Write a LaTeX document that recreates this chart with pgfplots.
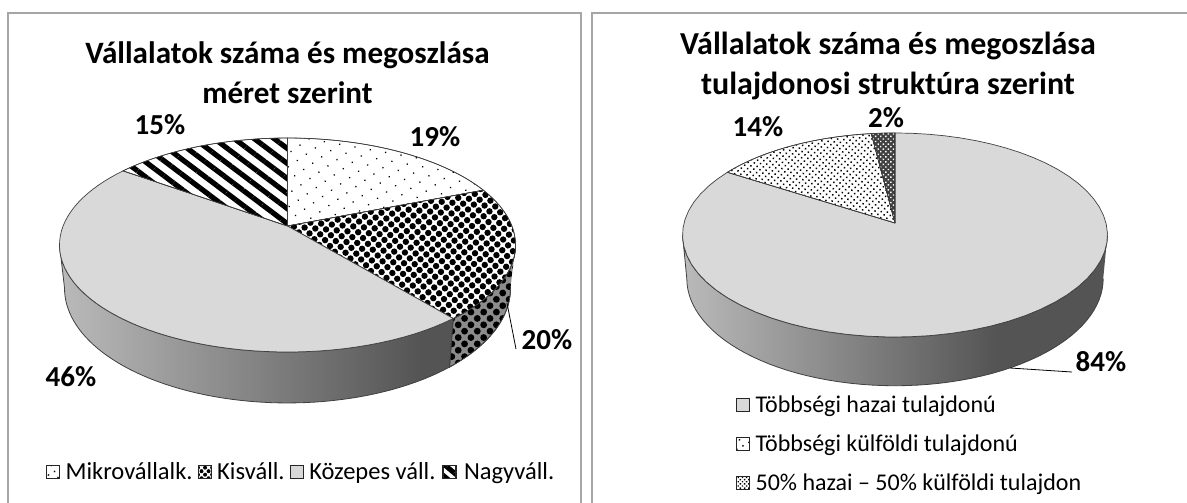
\documentclass[border=0pt]{standalone}
\usepackage{fontspec}
\setmainfont{Carlito}
\usepackage{pgfplots}
\pgfplotsset{compat=1.18}
\usetikzlibrary{patterns,patterns.meta}
\definecolor{topgray}{HTML}{D9D9D9}
\definecolor{frame}{HTML}{A6A6A6}
\definecolor{edge}{HTML}{404040}
\pgfdeclarehorizontalshading{sideL}{100bp}{color(0bp)=(black!27); color(25bp)=(black!27); color(71bp)=(black!67); color(100bp)=(black!67)}
\pgfdeclarehorizontalshading{sideR}{100bp}{color(0bp)=(black!27); color(25bp)=(black!27); color(62bp)=(black!67); color(100bp)=(black!67)}
\newcommand\setpie[7]{\def\Cx{#1}\def\Am{#2}\def\Al{#3}\def\Be{#4}\def\K{#5}\def\Dz{#6}\def\Sh{#7}}
\newcommand\appendarc[3]{%
  \foreach \i in {0,...,60}{%
    \pgfmathsetmacro\pp{#1+(#2-#1)*\i/60}%
    \pgfmathsetmacro\den{1+\K*cos(3.6*\pp)}%
    \pgfmathsetmacro\X{\Cx+\Am*sin(3.6*\pp)/\den*(1-#3*\Sh)}%
    \pgfmathsetmacro\Y{(\Al+\Be*cos(3.6*\pp))/\den+#3*\Dz/\den}%
    \xdef\coordlist{\coordlist (\X,\Y)}%
  }}
\def\doplot#1#2{\addplot[forget plot,#2] coordinates {#1};}
\newcommand\topsector[3]{%
  \xdef\coordlist{(\Cx,\Al)}\appendarc{#1}{#2}{0}\xdef\coordlist{\coordlist (\Cx,\Al)}%
  \expandafter\doplot\expandafter{\coordlist}{#3}}
\newcommand\sidesector[3]{%
  \gdef\coordlist{}\appendarc{#1}{#2}{0}\appendarc{#2}{#1}{1}%
  \expandafter\doplot\expandafter{\coordlist}{#3}}
\pgfplotsset{
  panel/.style={hide axis,scale only axis,clip=false,y dir=reverse,ymin=0,ymax=503,height=503pt,anchor=south west,
    legend style={draw=none,fill=none,inner sep=0pt,outer sep=0pt,cells={anchor=west}},
    legend image code/.code={\draw[draw=black!85,line width=1.1pt,##1] (0pt,-6.5pt) rectangle (13pt,6.5pt);}},
}
\tikzset{
  lab/.style={font=\fontsize{29}{30}\selectfont\bfseries,inner sep=0pt},
  ttlL/.style={font=\fontsize{31.1}{40}\selectfont\bfseries,inner sep=0pt,align=center},
  ttlR/.style={font=\fontsize{32}{40}\selectfont\bfseries,inner sep=0pt,align=center},
  Pdots/.style={pattern={Dots[radius=0.9pt,distance=11pt,angle=35]},pattern color=black},
  Pballs/.style={pattern={Dots[radius=3.2pt,distance=7.6pt,angle=40]},pattern color=black},
  Pside/.style={pattern={Dots[radius=3.4pt,distance=9pt,angle=45]},pattern color=black},
  Plines/.style={pattern={Lines[angle=-37,distance=12pt,line width=5.2pt]},pattern color=black},
  Pfine/.style={pattern={Dots[radius=1.05pt,distance=4.4pt,angle=40]},pattern color=black},
  Pdark/.style={pattern={Dots[radius=1pt,distance=3.6pt,angle=45]},pattern color=white},
  IconDots/.style={pattern={Dots[radius=1pt,distance=7pt,angle=30]},pattern color=black},
  IconBalls/.style={pattern={Dots[radius=2pt,distance=5pt,angle=45]},pattern color=black},
  IconLines/.style={pattern={Lines[angle=-40,distance=9pt,line width=5pt]},pattern color=black},
  IconDark/.style={pattern={Dots[radius=1pt,distance=3pt,angle=45]},pattern color=black},
}
\begin{document}
\begin{tikzpicture}
\useasboundingbox (0pt,0pt) rectangle (1187pt,503pt);
\begin{axis}[panel,at={(0pt,0pt)},xmin=0,xmax=590,width=590pt,legend columns=-1,
  legend style={at={(axis cs:46,472)},anchor=west,font=\fontsize{24.5}{26}\selectfont,
    /tikz/every even column/.append style={column sep=3pt},/tikz/every odd column/.append style={column sep=3.5pt}}]
\setpie{287.5}{224.4}{226}{-63.5}{0.1776}{41.9}{0.022}
\draw[frame,line width=1.2pt] (axis cs:8,503)--(axis cs:8,13)--(axis cs:581,13)--(axis cs:581,503);
% side
\sidesector{39}{72.2}{shading=sideL,draw=edge,line width=0.8pt}
\sidesector{27.8}{39}{fill=black!45,draw=edge,line width=0.8pt}
\sidesector{27.8}{39}{Pside,draw=edge,line width=0.8pt}
% top: values 19, 20, 46, 15
\topsector{0}{19}{fill=white}
\topsector{0}{19}{Pdots,draw=edge,line width=0.7pt}
\topsector{19}{39}{fill=white}
\topsector{19}{39}{Pballs,draw=edge,line width=0.7pt}
\topsector{39}{85}{fill=topgray,draw=edge,line width=0.7pt}
\topsector{85}{100}{fill=white}
\topsector{85}{100}{Plines,draw=edge,line width=0.7pt}
\draw[black,line width=0.8pt] (axis cs:507,303)--(axis cs:516,349);
\node[lab] at (axis cs:160,125) {15\%};
\node[lab] at (axis cs:435,137) {19\%};
\node[lab] at (axis cs:547,340) {20\%};
\node[lab] at (axis cs:71,377) {46\%};
\node[ttlL] at (axis cs:287.5,73) {Vállalatok száma és megoszlása\\méret szerint};
\addlegendimage{fill=white,postaction={IconDots}}\addlegendentry{Mikrovállalk.}
\addlegendimage{fill=white,postaction={IconBalls}}\addlegendentry{Kisváll.}
\addlegendimage{fill=topgray}\addlegendentry{Közepes váll.}
\addlegendimage{fill=white,postaction={IconLines}}\addlegendentry{Nagyváll.}
\end{axis}
\begin{axis}[panel,at={(590pt,0pt)},xmin=590,xmax=1187,width=597pt,
  legend style={at={(axis cs:736,444)},anchor=west,row sep=17pt,font=\fontsize{24}{26}\selectfont,
    /tikz/every odd column/.append style={column sep=3.5pt}}]
\setpie{895}{211}{223}{-74.4}{0.1176}{43}{0.02}
\draw[frame,line width=1.2pt] (axis cs:592,503)--(axis cs:592,13)--(axis cs:1187,13);
\sidesector{26.9}{73.1}{shading=sideR,draw=edge,line width=0.8pt}
% top: values 84, 14, 2
\topsector{0}{84}{fill=topgray,draw=edge,line width=0.7pt}
\topsector{84}{98}{fill=white}
\topsector{84}{98}{Pfine,draw=edge,line width=0.7pt}
\topsector{98}{100}{fill=black!75}
\topsector{98}{100}{Pdark,draw=edge,line width=0.7pt}
\draw[black,line width=0.8pt] (axis cs:1010,368)--(axis cs:1072,372);
\node[lab] at (axis cs:1101,362) {84\%};
\node[lab] at (axis cs:758,127) {14\%};
\node[lab] at (axis cs:886,118) {2\%};
\node[ttlR] at (axis cs:888,66) {Vállalatok száma és megoszlása\\tulajdonosi struktúra szerint};
\addlegendimage{fill=topgray}\addlegendentry{Többségi hazai tulajdonú}
\addlegendimage{fill=white,postaction={IconDots}}\addlegendentry{Többségi külföldi tulajdonú}
\addlegendimage{fill=white,postaction={IconDark}}\addlegendentry{50\% hazai – 50\% külföldi tulajdon}
\end{axis}
\end{tikzpicture}
\end{document}
